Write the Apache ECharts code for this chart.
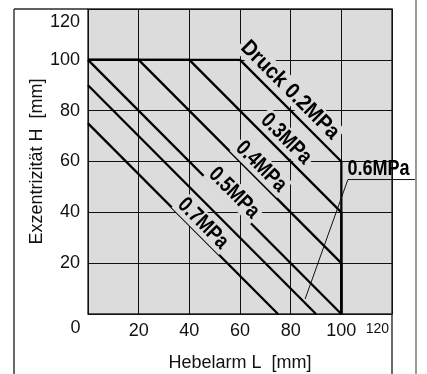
<!DOCTYPE html>
<html>
<head>
<meta charset="utf-8">
<script src="https://cdn.jsdelivr.net/npm/echarts@6/dist/echarts.min.js"></script>
<style>
  html, body { margin: 0; padding: 0; background: #fff; }
  #chart { width: 427px; height: 374px; }
</style>
</head>
<body>
<div id="chart"></div>
<script>
// Permissible eccentricity H over lever length L, one limit curve per supply pressure
const xTicks = [0, 20, 40, 60, 80, 100, 120];
const yTicks = [0, 20, 40, 60, 80, 100, 120];

const pressureNames = ['Druck 0.2MPa', '0.3MPa', '0.4MPa', '0.5MPa', '0.6MPa', '0.7MPa'];

// [Hebelarm L (mm), Exzentrizität H (mm)]
const curve02 = [[0, 100], [60, 100], [100, 60], [100, 0]];
const curve03 = [[0, 100], [40, 100], [100, 40], [100, 0]];
const curve04 = [[0, 100], [20, 100], [100, 20], [100, 0]];
const curve05 = [[0, 100], [100, 0]];
const curve06 = [[0, 90], [90, 0]];
const curve07 = [[0, 75], [75, 0]];

// label anchors along each curve (data units)
const labelAnchors = [[79.7, 88.1], [78.2, 68.9], [68.3, 58.0], [57.6, 47.6], [102.4, 57.2], [45.4, 35.6]];
// leader from the 0.6MPa curve out to its label
const leader06 = [[85.7, 5.9], [102.6, 52.9], [129.1, 52.9]];

const curves = [curve02, curve03, curve04, curve05, curve06, curve07];

const FONT = "'Liberation Sans', Arial, Helvetica, sans-serif";
const PLOT_BG = '#dcdcdc';

const chart = echarts.init(document.getElementById('chart'), null, { renderer: 'canvas' });

const curveSeries = curves.map((pts, i) => ({
  name: pressureNames[i],
  type: 'line',
  data: pts,
  showSymbol: false,
  symbol: 'none',
  silent: true,
  lineStyle: { color: '#000', width: 2.3 },
  z: 3
}));

const option = {
  animation: false,
  grid: {
    left: 88, top: 9, right: 35, bottom: 60,
    outerBoundsMode: 'none',
    containLabel: false,
    show: true,
    backgroundColor: PLOT_BG,
    borderColor: '#2a2a2a',
    borderWidth: 1.4
  },
  xAxis: {
    type: 'value',
    min: xTicks[0], max: xTicks[xTicks.length - 1], interval: 20,
    name: 'Hebelarm L  [mm]',
    nameLocation: 'middle',
    nameGap: 40,
    nameMoveOverlap: false,
    nameTextStyle: { fontFamily: FONT, fontSize: 18, color: '#111' },
    axisLine: { show: false },
    axisTick: { show: false },
    splitLine: { show: true, lineStyle: { color: '#111', width: 1 } },
    axisLabel: {
      margin: 8,
      fontFamily: FONT, fontSize: 18, color: '#111',
      alignMaxLabel: 'right',
      formatter: v => v === 0 ? '' : (v === 120 ? '{s|120}' : String(v)),
      rich: { s: { fontFamily: FONT, fontSize: 14, color: '#111', padding: [0, 3, 0, 0] } }
    }
  },
  yAxis: {
    type: 'value',
    min: yTicks[0], max: yTicks[yTicks.length - 1], interval: 20,
    name: 'Exzentrizität H  [mm]',
    nameLocation: 'middle',
    nameGap: 42,
    nameMoveOverlap: false,
    nameTextStyle: { fontFamily: FONT, fontSize: 18, color: '#111' },
    axisLine: { show: false },
    axisTick: { show: false },
    splitLine: { show: true, lineStyle: { color: '#111', width: 1 } },
    axisLabel: {
      margin: 8,
      fontFamily: FONT, fontSize: 18, color: '#111',
      verticalAlignMaxLabel: 'top',
      formatter: v => v === 0 ? '' : (v === 120 ? '{t|120}' : String(v)),
      rich: { t: { fontFamily: FONT, fontSize: 18, color: '#111', padding: [4, 0, 0, 0] } }
    }
  },
  series: curveSeries
};

chart.setOption(option);

// frame lines, the shared zero label, the 0.6MPa leader and the pressure labels
const toPx = p => chart.convertToPixel({ gridIndex: 0 }, p);
const origin = toPx([0, 0]);
const corner = toPx([120, 120]);
const frameStyle = { stroke: '#2a2a2a', lineWidth: 1.4 };

const pressureLabels = labelAnchors.map((p, i) => {
  const px = toPx(p);
  const outside = i === 4;
  return {
    type: 'text',
    x: px[0], y: px[1],
    rotation: outside ? 0 : -Math.PI / 4,
    scaleX: i === 0 ? 0.9 : 0.82,
    z: 100,
    silent: true,
    style: {
      text: pressureNames[i],
      font: 'bold 22px ' + FONT,
      fill: '#000',
      align: outside ? 'left' : 'center',
      verticalAlign: 'middle',
      backgroundColor: outside ? null : PLOT_BG,
      padding: outside ? 0 : [0, 3]
    }
  };
});

chart.setOption({
  graphic: [
    { type: 'line', z: 100, shape: { x1: 14, y1: corner[1], x2: origin[0], y2: corner[1] }, style: frameStyle, silent: true },
    { type: 'line', z: 100, shape: { x1: 14, y1: corner[1], x2: 14, y2: 374 }, style: frameStyle, silent: true },
    { type: 'line', z: 100, shape: { x1: corner[0], y1: origin[1], x2: corner[0], y2: 374 }, style: frameStyle, silent: true },
    { type: 'line', z: 100, shape: { x1: 416, y1: 0, x2: 416, y2: 374 }, style: { stroke: '#555', lineWidth: 1.2 }, silent: true },
    {
      type: 'polyline', z: 90, silent: true,
      shape: { points: leader06.map(toPx) },
      style: { stroke: '#111', lineWidth: 1, fill: null }
    },
    {
      type: 'text', z: 100,
      x: origin[0] - 12.5, y: origin[1] + 14.5,
      style: { text: '0', font: '18px ' + FONT, fill: '#111', align: 'center', verticalAlign: 'middle' },
      silent: true
    },
    ...pressureLabels
  ]
});
</script>
</body>
</html>
